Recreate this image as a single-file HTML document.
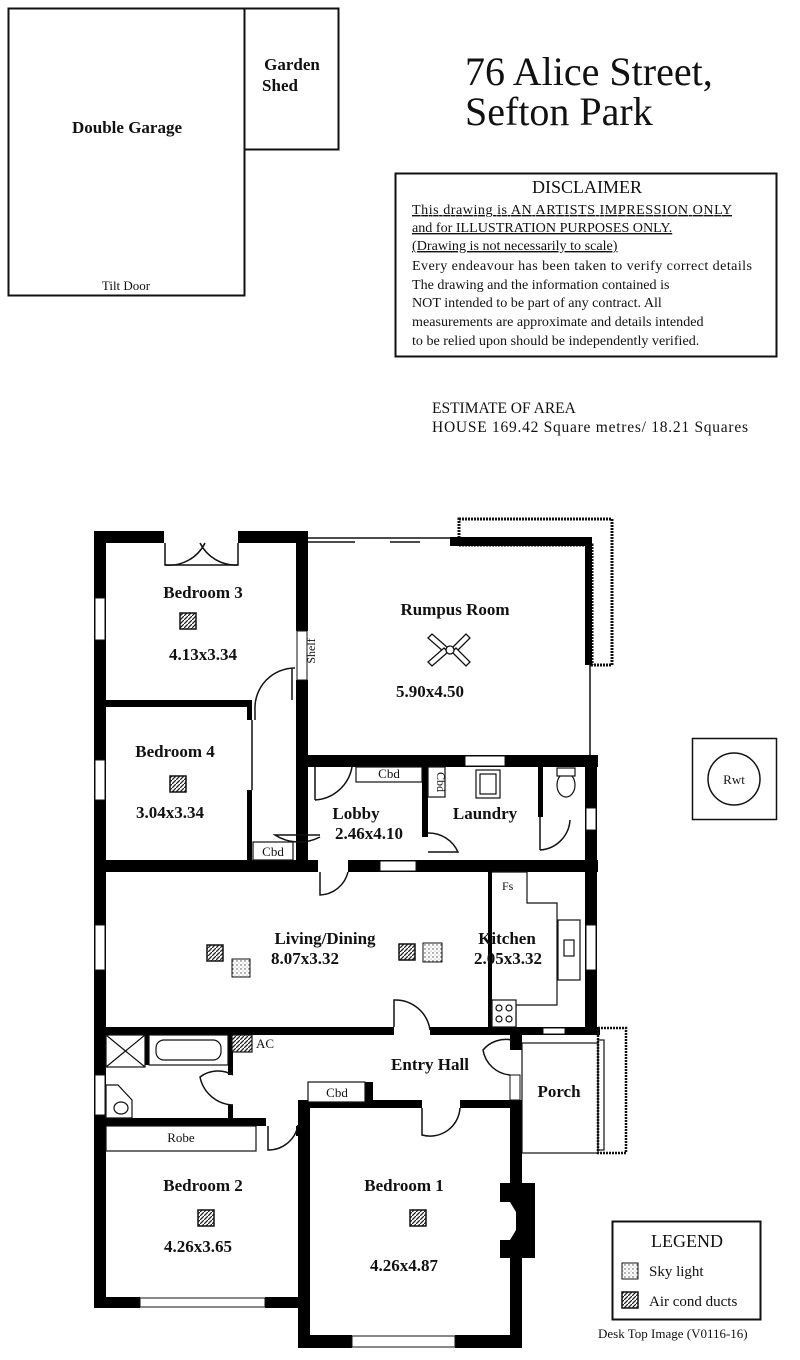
<!DOCTYPE html>
<html><head><meta charset="utf-8"><style>
html,body{margin:0;padding:0;background:#fff;width:800px;height:1360px;overflow:hidden}
svg{display:block}
text{font-family:"Liberation Serif",serif;fill:#111}
.b{font-weight:bold;font-size:17px}
.s{font-size:13px}
</style></head><body>
<svg width="800" height="1360" viewBox="0 0 800 1360" xmlns="http://www.w3.org/2000/svg">
<defs>
<pattern id="ac" width="4" height="4" patternUnits="userSpaceOnUse"><rect width="4" height="4" fill="#fff"/><path d="M0 4L4 0" stroke="#222" stroke-width="1.3"/></pattern>
<pattern id="sk" width="4" height="4" patternUnits="userSpaceOnUse"><rect width="4" height="4" fill="#fff"/><circle cx="1" cy="1" r="0.7" fill="#444"/><circle cx="3" cy="3" r="0.5" fill="#777"/></pattern>
</defs>
<!-- garage -->
<rect x="8.5" y="8.5" width="236" height="287" fill="none" stroke="#111" stroke-width="2"/>
<rect x="244.5" y="8.5" width="94" height="141" fill="none" stroke="#111" stroke-width="2"/>
<text x="127" y="133" class="b" text-anchor="middle">Double Garage</text>
<text x="292" y="70" class="b" text-anchor="middle">Garden</text>
<text x="280" y="91" class="b" text-anchor="middle">Shed</text>
<text x="126" y="290" class="s" text-anchor="middle">Tilt Door</text>
<text x="465" y="85" font-size="40">76 Alice Street,</text>
<text x="465" y="125" font-size="40">Sefton Park</text>
<!-- disclaimer -->
<rect x="395.5" y="173.5" width="381" height="183" fill="none" stroke="#111" stroke-width="2"/>
<text x="587" y="193" font-size="18" text-anchor="middle">DISCLAIMER</text>
<g font-size="14.1">
<text x="412" y="214" text-decoration="underline" textLength="320">This drawing is AN ARTISTS IMPRESSION ONLY</text>
<text x="412" y="232" text-decoration="underline">and for ILLUSTRATION PURPOSES ONLY.</text>
<text x="412" y="250" text-decoration="underline">(Drawing is not necessarily to scale)</text>
<text x="412" y="270" textLength="340">Every endeavour has been taken to verify correct details</text>
<text x="412" y="289">The drawing and the information contained is</text>
<text x="412" y="307">NOT intended to be part of any contract.  All</text>
<text x="412" y="326">measurements are approximate and details intended</text>
<text x="412" y="345">to be relied upon should be independently verified.</text>
<text x="432" y="413" font-size="15.5">ESTIMATE OF AREA</text>
<text x="432" y="432" font-size="15.5" textLength="316">HOUSE  169.42 Square metres/ 18.21 Squares</text>
</g>
<!-- planter -->
<path d="M459 519H612V665H592V545H459Z" fill="none" stroke="#111" stroke-width="3" stroke-dasharray="2 1"/>
<!-- walls -->
<g fill="#000">
<rect x="94" y="531" width="70" height="12"/><rect x="238" y="531" width="70" height="12"/>
<rect x="94" y="531" width="12" height="777"/>
<rect x="296" y="531" width="12" height="100"/><rect x="296" y="680" width="12" height="180"/>
<rect x="450" y="537" width="142" height="9"/>
<rect x="585" y="537" width="7" height="128"/>
<rect x="106" y="700" width="144" height="7"/>
<rect x="247" y="700" width="5" height="20"/><rect x="247" y="790" width="5" height="70"/>
<rect x="296" y="755" width="12" height="50"/>
<rect x="308" y="755" width="290" height="12"/>
<rect x="422" y="767" width="6" height="70"/>
<rect x="538" y="767" width="5" height="50"/>
<rect x="585" y="755" width="12" height="280"/>
<rect x="94" y="860" width="224" height="12"/><rect x="348" y="860" width="250" height="12"/>
<rect x="488" y="872" width="4" height="158"/>
<rect x="94" y="1027" width="300" height="8"/><rect x="430" y="1027" width="170" height="8"/>
<rect x="145" y="1035" width="4" height="30"/>
<rect x="228" y="1035" width="5" height="40"/>
<rect x="228" y="1105" width="5" height="20"/>
<rect x="94" y="1118" width="172" height="8"/>
<rect x="296" y="1126" width="4" height="10"/>
<rect x="298" y="1100" width="124" height="8"/><rect x="460" y="1100" width="62" height="8"/>
<rect x="365" y="1082" width="8" height="20"/>
<rect x="510" y="1030" width="12" height="20"/><rect x="510" y="1100" width="12" height="248"/>
<rect x="298" y="1100" width="12" height="248"/>
<rect x="94" y="1297" width="46" height="11"/><rect x="265" y="1297" width="45" height="11"/>
<rect x="298" y="1335" width="54" height="13"/><rect x="455" y="1335" width="67" height="13"/>
<rect x="500" y="1183" width="35" height="75"/>
</g>
<path d="M500 1202H510L516 1212V1230L510 1240H500Z" fill="#fff"/>
<!-- windows -->
<g fill="#fff" stroke="#111" stroke-width="1">
<rect x="95" y="598" width="10" height="42"/><rect x="95" y="760" width="10" height="40"/>
<rect x="95" y="925" width="10" height="45"/><rect x="95" y="1075" width="10" height="40"/>
<rect x="140" y="1298" width="125" height="9"/><rect x="352" y="1336" width="103" height="11"/>
<rect x="586" y="808" width="10" height="22"/><rect x="586" y="925" width="10" height="45"/>
<rect x="380" y="861" width="36" height="10"/><rect x="465" y="756" width="40" height="10"/>
<rect x="543" y="1028" width="22" height="6"/><rect x="510" y="1075" width="10" height="25"/>
<rect x="297" y="631" width="10" height="49"/>
</g>
<!-- rumpus glass / doors -->
<g stroke="#111" stroke-width="1.5" fill="none">
<path d="M308 538H450M308 542H355M390 542H420M590 665V755"/>
<path d="M165 543V565H238V543"/>
<path d="M205 543A40 40 0 0 1 165 565M200 543A40 40 0 0 0 238 565"/>
<path d="M295 668A40 40 0 0 0 255 710V720M292 668V700"/>
<path d="M252 720V790"/>
<path d="M352 767A40 40 0 0 1 315 800M315 767V800"/>
<path d="M320 837A45 45 0 0 1 275 835H320"/>
<path d="M428 833A32 32 0 0 1 458 852H428"/>
<path d="M540 817V850M540 850A32 32 0 0 0 570 820"/>
<path d="M320 872V895A30 30 0 0 0 348 872"/>
<path d="M394 1027V1000A35 35 0 0 1 430 1030"/>
<path d="M512 1040A30 30 0 0 0 483 1050A30 30 0 0 0 510 1075"/>
<path d="M233 1075A30 30 0 0 0 200 1077A35 35 0 0 0 233 1105"/>
<path d="M298 1125A30 30 0 0 1 268 1150V1126"/>
<path d="M422 1108V1135A30 30 0 0 0 460 1108"/>
</g>
<!-- fixtures -->
<g stroke="#111" stroke-width="1.2" fill="#fff">
<rect x="106" y="1035" width="39" height="32"/><path d="M106 1035L145 1067M145 1035L106 1067"/>
<rect x="149" y="1035" width="79" height="30"/><rect x="156" y="1040" width="65" height="20" rx="8"/>
<rect x="232" y="1035" width="20" height="17" fill="url(#ac)"/>
<path d="M106 1085H118L132 1100V1118H106Z"/><ellipse cx="121" cy="1108" rx="7" ry="6"/>
<rect x="106" y="1126" width="150" height="25"/>
<rect x="308" y="1082" width="57" height="20"/>
<rect x="253" y="842" width="40" height="18"/>
<rect x="356" y="767" width="66" height="15"/>
<rect x="428" y="767" width="17" height="30"/>
<rect x="476" y="770" width="24" height="28"/><rect x="480" y="774" width="16" height="20"/>
<ellipse cx="566" cy="785" rx="9" ry="12"/><rect x="557" y="768" width="18" height="8"/>
<path d="M492 872H527V903H557V1005H516V1027" fill="none"/>
<rect x="558" y="920" width="22" height="60"/><rect x="564" y="940" width="10" height="16"/>
<rect x="492" y="1000" width="24" height="27"/>
<circle cx="499" cy="1008" r="3"/><circle cx="509" cy="1008" r="3"/><circle cx="499" cy="1019" r="3"/><circle cx="509" cy="1019" r="3"/>
<rect x="522" y="1043" width="76" height="110" fill="none"/>
<rect x="598" y="1028" width="28" height="125" fill="none" stroke-width="2.5" stroke-dasharray="2 1"/>
<rect x="598" y="1040" width="6" height="110" fill="none"/>
</g>
<!-- fan -->
<g stroke="#111" stroke-width="1.3" fill="#fff">
<path d="M448 648L432 634L428 638L444 652Z"/><path d="M452 648L466 634L470 638L456 652Z"/>
<path d="M448 652L432 666L428 662L444 648Z"/><path d="M452 652L466 666L470 662L456 648Z"/>
<circle cx="450" cy="650" r="4"/>
</g>
<!-- ac / skylight -->
<g stroke="#111" stroke-width="1.5">
<rect x="180" y="613" width="16" height="16" fill="url(#ac)"/>
<rect x="170" y="776" width="16" height="16" fill="url(#ac)"/>
<rect x="207" y="945" width="16" height="16" fill="url(#ac)"/>
<rect x="232" y="959" width="18" height="18" fill="url(#sk)" stroke-width="1"/>
<rect x="399" y="944" width="16" height="16" fill="url(#ac)"/>
<rect x="423" y="943" width="19" height="19" fill="url(#sk)" stroke-width="1"/>
<rect x="198" y="1210" width="16" height="16" fill="url(#ac)"/>
<rect x="410" y="1210" width="16" height="16" fill="url(#ac)"/>
</g>
<!-- labels -->
<text x="203" y="598" class="b" text-anchor="middle">Bedroom 3</text>
<text x="203" y="660" class="b" text-anchor="middle">4.13x3.34</text>
<text x="455" y="615" class="b" text-anchor="middle">Rumpus Room</text>
<text x="430" y="697" class="b" text-anchor="middle">5.90x4.50</text>
<text x="175" y="757" class="b" text-anchor="middle">Bedroom 4</text>
<text x="170" y="818" class="b" text-anchor="middle">3.04x3.34</text>
<text x="356" y="819" class="b" text-anchor="middle">Lobby</text>
<text x="369" y="839" class="b" text-anchor="middle">2.46x4.10</text>
<text x="485" y="819" class="b" text-anchor="middle">Laundry</text>
<text x="325" y="944" class="b" text-anchor="middle">Living/Dining</text>
<text x="305" y="964" class="b" text-anchor="middle">8.07x3.32</text>
<text x="507" y="944" class="b" text-anchor="middle">Kitchen</text>
<text x="508" y="964" class="b" text-anchor="middle">2.05x3.32</text>
<text x="430" y="1070" class="b" text-anchor="middle">Entry Hall</text>
<text x="559" y="1097" class="b" text-anchor="middle">Porch</text>
<text x="203" y="1191" class="b" text-anchor="middle">Bedroom 2</text>
<text x="198" y="1252" class="b" text-anchor="middle">4.26x3.65</text>
<text x="404" y="1191" class="b" text-anchor="middle">Bedroom 1</text>
<text x="404" y="1271" class="b" text-anchor="middle">4.26x4.87</text>
<g class="s">
<text x="389" y="778" text-anchor="middle" font-size="13">Cbd</text>
<text x="273" y="856" text-anchor="middle" font-size="13">Cbd</text>
<text x="337" y="1097" text-anchor="middle" font-size="13">Cbd</text>
<text x="181" y="1142" text-anchor="middle" font-size="13">Robe</text>
<text x="256" y="1048" font-size="13">AC</text>
<text x="502" y="890" font-size="12">Fs</text>
<text transform="translate(437,782) rotate(90)" text-anchor="middle" font-size="12">Cbd</text>
<text transform="translate(315,651) rotate(-90)" text-anchor="middle" font-size="12">Shelf</text>
</g>
<!-- Rwt -->
<rect x="692.5" y="738.5" width="84" height="81" fill="none" stroke="#111" stroke-width="1.5"/>
<circle cx="734" cy="779" r="26" fill="none" stroke="#111" stroke-width="1.5"/>
<text x="734" y="784" font-size="13" text-anchor="middle">Rwt</text>
<!-- legend -->
<rect x="612.5" y="1221.5" width="148" height="98" fill="none" stroke="#111" stroke-width="2"/>
<text x="687" y="1247" font-size="18" text-anchor="middle">LEGEND</text>
<rect x="622" y="1263" width="16" height="16" fill="url(#sk)" stroke="#111"/>
<rect x="622" y="1292" width="16" height="16" fill="url(#ac)" stroke="#111" stroke-width="1.5"/>
<text x="649" y="1276" font-size="15">Sky light</text>
<text x="649" y="1306" font-size="15">Air cond ducts</text>
<text x="598" y="1338" font-size="13">Desk Top Image  (V0116-16)</text>
</svg>
</body></html>
